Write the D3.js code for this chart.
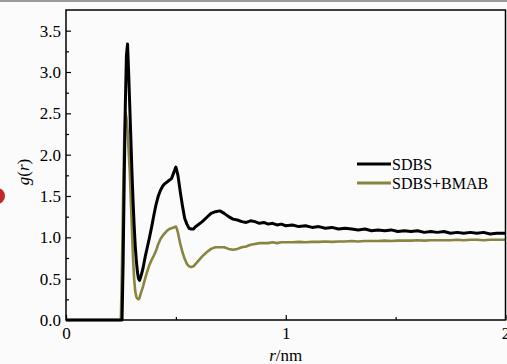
<!DOCTYPE html>
<html>
<head>
<meta charset="utf-8">
<script src="https://cdn.jsdelivr.net/npm/d3@7"></script>
<style>
  body { margin: 0; background: #fbfbfb; }
  svg { display: block; }
  text { font-family: "Liberation Serif", "Times New Roman", serif; fill: #000; }
</style>
</head>
<body>
<svg id="chart"></svg>
<script>
// r in nm, shared by both series
var rValues = [
  0, 0.245, 0.25, 0.255, 0.26, 0.265, 0.27, 0.275, 0.28, 0.285,
  0.29, 0.295, 0.30, 0.305, 0.31, 0.315, 0.32, 0.325, 0.33, 0.335,
  0.34, 0.35, 0.36, 0.37, 0.38, 0.39, 0.40, 0.41, 0.42, 0.43,
  0.44, 0.45, 0.46, 0.47, 0.48, 0.49, 0.50, 0.505, 0.51, 0.52,
  0.53, 0.54, 0.55, 0.56, 0.57, 0.58, 0.59, 0.60, 0.62, 0.64,
  0.66, 0.68, 0.70, 0.72, 0.74, 0.76, 0.78, 0.80, 0.82, 0.84,
  0.86, 0.88, 0.90, 0.92, 0.94, 0.96, 0.98, 1.00, 1.03, 1.06,
  1.09, 1.12, 1.15, 1.18, 1.21, 1.24, 1.27, 1.30, 1.33, 1.36,
  1.39, 1.42, 1.45, 1.48, 1.51, 1.54, 1.57, 1.60, 1.63, 1.66,
  1.69, 1.72, 1.75, 1.78, 1.81, 1.84, 1.87, 1.90, 1.93, 1.96, 2.00
];
var sdbs = [
  0, 0, 0, 0, 0.7, 1.7, 2.6, 3.2, 3.34, 3.0,
  2.6, 2.2, 1.8, 1.45, 1.15, 0.9, 0.72, 0.58, 0.50, 0.48,
  0.52, 0.62, 0.76, 0.88, 1.0, 1.13, 1.27, 1.40, 1.50, 1.57,
  1.62, 1.65, 1.67, 1.69, 1.71, 1.78, 1.85, 1.80, 1.74, 1.55,
  1.38, 1.23, 1.16, 1.11, 1.10, 1.10, 1.13, 1.15, 1.19, 1.24,
  1.29, 1.31, 1.32, 1.29, 1.25, 1.22, 1.21, 1.19, 1.18, 1.20,
  1.19, 1.17, 1.18, 1.16, 1.17, 1.15, 1.16, 1.14, 1.15, 1.13,
  1.14, 1.12, 1.13, 1.11, 1.12, 1.10, 1.11, 1.10, 1.09, 1.10,
  1.08, 1.09, 1.08, 1.09, 1.07, 1.08, 1.07, 1.08, 1.06, 1.07,
  1.06, 1.07, 1.05, 1.06, 1.05, 1.06, 1.05, 1.06, 1.04, 1.05, 1.05
];
var sdbsBmab = [
  0, 0, 0.02, 0.7, 1.5, 2.2, 2.51, 2.45, 2.3, 2.05,
  1.8, 1.45, 1.1, 0.75, 0.5, 0.35, 0.28, 0.26, 0.25, 0.27,
  0.32, 0.40, 0.50, 0.59, 0.67, 0.73, 0.78, 0.84, 0.92, 0.98,
  1.02, 1.05, 1.08, 1.10, 1.11, 1.12, 1.13, 1.10, 1.05, 0.92,
  0.82, 0.74, 0.68, 0.65, 0.64, 0.65, 0.68, 0.71, 0.77, 0.82,
  0.86, 0.88, 0.88, 0.88, 0.86, 0.85, 0.86, 0.88, 0.89, 0.91,
  0.92, 0.93, 0.93, 0.93, 0.94, 0.93, 0.94, 0.94, 0.94, 0.945,
  0.94, 0.945, 0.945, 0.95, 0.945, 0.95, 0.95, 0.955, 0.95, 0.955,
  0.955, 0.955, 0.96, 0.955, 0.96, 0.96, 0.96, 0.965, 0.96, 0.965,
  0.965, 0.965, 0.965, 0.97, 0.965, 0.97, 0.97, 0.965, 0.97, 0.97, 0.97
];
var seriesNames = ["SDBS", "SDBS+BMAB"];
var seriesColors = ["#000000", "#878540"];
var xTicks = [0, 1, 2];
var xMinorTicks = [0.5, 1.5];
var yTicks = [0, 0.5, 1.0, 1.5, 2.0, 2.5, 3.0, 3.5];
var yMinorTicks = [0.25, 0.75, 1.25, 1.75, 2.25, 2.75, 3.25];

var W = 507, H = 364;
var margin = { left: 66, top: 10 };
var plotW = 439.5, plotH = 310;

var svg = d3.select("#chart").attr("width", W).attr("height", H);

// grey strip along the top edge and the red blot on the left of the scan
svg.append("rect").attr("x", 0).attr("y", 0).attr("width", W).attr("height", 2).attr("fill", "#9a9a9a");
svg.append("circle").attr("cx", -3).attr("cy", 196).attr("r", 8).attr("fill", "#c4282c");

var x = d3.scaleLinear().domain([0, 2]).range([0, plotW]);
var y = d3.scaleLinear().domain([0, 3.75]).range([plotH, 0]);

var g = svg.append("g").attr("transform", "translate(" + margin.left + "," + margin.top + ")");

var line = d3.line()
    .x(function (d) { return x(d[0]); })
    .y(function (d) { return y(d[1]); });

[sdbs, sdbsBmab].forEach(function (vals, k) {
  var pts = rValues.map(function (r, i) { return [r, vals[i]]; });
  g.append("path")
    .datum(pts)
    .attr("fill", "none")
    .attr("stroke", seriesColors[k])
    .attr("stroke-width", k === 0 ? 3 : 2.6)
    .attr("stroke-linejoin", "round")
    .attr("d", line);
});
// the black line is drawn over the olive one where they meet near zero
g.select("path").raise();

// minor ticks
g.append("g").call(d3.axisLeft(y).tickValues(yMinorTicks).tickSize(-3).tickFormat(""))
  .call(function (a) { a.select(".domain").remove(); })
  .selectAll("line").attr("stroke-width", 1.2);
g.append("g").attr("transform", "translate(0," + plotH + ")")
  .call(d3.axisBottom(x).tickValues(xMinorTicks).tickSize(-3).tickFormat(""))
  .call(function (a) { a.select(".domain").remove(); })
  .selectAll("line").attr("stroke-width", 1.2);

// major axes
var yAxis = g.append("g")
  .call(d3.axisLeft(y).tickValues(yTicks).tickSize(-5).tickPadding(5).tickFormat(d3.format(".1f")));
yAxis.select(".domain").remove();
yAxis.selectAll("line").attr("stroke-width", 1.2);
yAxis.selectAll("text").attr("font-size", 17).attr("font-family", null);

var xAxis = g.append("g").attr("transform", "translate(0," + plotH + ")")
  .call(d3.axisBottom(x).tickValues(xTicks).tickSize(-5).tickPadding(7).tickFormat(d3.format("d")));
xAxis.select(".domain").remove();
xAxis.selectAll("line").attr("stroke-width", 1.2);
xAxis.selectAll("text").attr("font-size", 17).attr("font-family", null);

// frame
g.append("rect")
  .attr("x", 0).attr("y", 0).attr("width", plotW).attr("height", plotH)
  .attr("fill", "none").attr("stroke", "#000").attr("stroke-width", 1.5);

// axis titles
var xt = svg.append("text")
  .attr("x", margin.left + plotW / 2).attr("y", 361)
  .attr("text-anchor", "middle").attr("font-size", 17);
xt.append("tspan").attr("font-style", "italic").text("r");
xt.append("tspan").text("/nm");

var yt = svg.append("text")
  .attr("transform", "translate(29,172) rotate(-90)")
  .attr("text-anchor", "middle").attr("font-size", 17);
yt.append("tspan").attr("font-style", "italic").text("g");
yt.append("tspan").text("(");
yt.append("tspan").attr("font-style", "italic").text("r");
yt.append("tspan").text(")");

// legend
var legend = svg.append("g");
seriesNames.forEach(function (name, i) {
  var ly = 164 + i * 19;
  legend.append("line")
    .attr("x1", 357).attr("x2", 391).attr("y1", ly).attr("y2", ly)
    .attr("stroke", seriesColors[i]).attr("stroke-width", 3);
  legend.append("text")
    .attr("x", 392).attr("y", ly + 5.5)
    .attr("font-size", 16)
    .text(name);
});
</script>
</body>
</html>
